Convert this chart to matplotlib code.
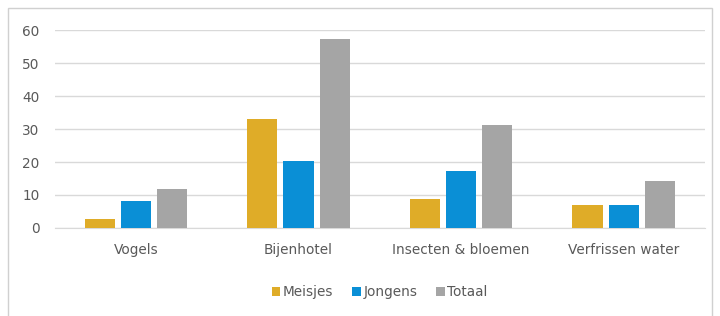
import matplotlib

matplotlib.use("Agg")
import matplotlib.pyplot as plt
import numpy as np
from matplotlib.patches import Rectangle

plt.rcParams["font.family"] = ["DejaVu Sans"]

categories = ["Vogels", "Bijenhotel", "Insecten & bloemen", "Verfrissen water"]
meisjes = [2.7, 33.0, 8.8, 7.0]
jongens = [8.2, 20.3, 17.3, 7.0]
totaal = [11.7, 57.2, 31.1, 14.1]
series_names = ["Meisjes", "Jongens", "Totaal"]
yticks = [0, 10, 20, 30, 40, 50, 60]

colors = ["#DFAC28", "#0A8FD6", "#A5A5A5"]
text_color = "#595959"
grid_color = "#D9D9D9"

fig = plt.figure(figsize=(7.2, 3.16), dpi=100)
fig.patch.set_facecolor("white")
ax = fig.add_axes([0.076, 0.2785, 0.903, 0.6265])

# chart border (cut off at the bottom like the reference)
fig.patches.append(Rectangle((0.011, -0.05), 0.978, 1.025, transform=fig.transFigure,
                             fill=False, edgecolor="#D0D0D0", linewidth=1.0))

x = np.arange(len(categories))
width = 0.185
step = 0.222
for i, (vals, name, c) in enumerate(zip([meisjes, jongens, totaal], series_names, colors)):
    ax.bar(x + (i - 1) * step, vals, width, color=c, label=name, zorder=3)

ax.set_xlim(-0.5, len(categories) - 0.5)
ax.set_ylim(0, 60)
ax.set_yticks(yticks)
ax.set_xticks(x)
ax.set_xticklabels(categories)
ax.yaxis.grid(True, color=grid_color, linewidth=1.0, zorder=0)
ax.set_axisbelow(True)
for s in ["top", "right", "left"]:
    ax.spines[s].set_visible(False)
ax.spines["bottom"].set_color(grid_color)
ax.tick_params(axis="both", length=0, colors=text_color, labelsize=9.8)
ax.tick_params(axis="y", pad=11)
ax.tick_params(axis="x", pad=11)

ax.legend(loc="center", bbox_to_anchor=(0.5, -0.325), ncol=3, frameon=False,
          fontsize=9.8, handlelength=0.6, handleheight=0.6, handletextpad=0.2,
          columnspacing=1.4, labelcolor=text_color)

fig.savefig("out.png", dpi=100)
